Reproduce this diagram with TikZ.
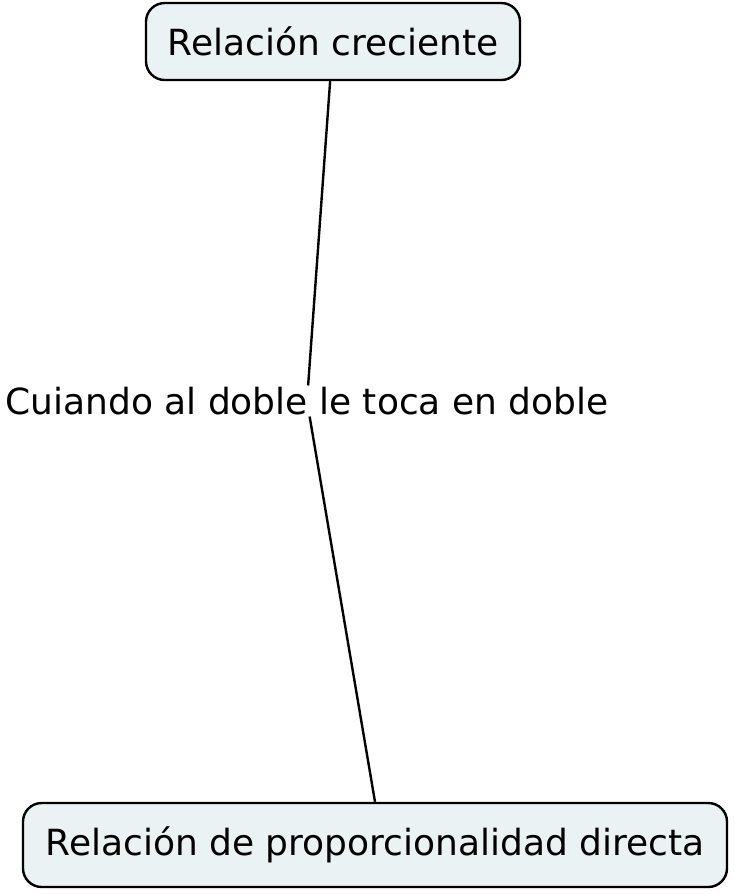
\documentclass[tikz,border=0pt]{standalone}
\usepackage{fontspec}
\setmainfont{DejaVu Sans}
\usetikzlibrary{positioning}
\definecolor{boxfill}{RGB}{235, 242, 244}

\begin{document}
\begin{tikzpicture}[x=0.75pt, y=-0.75pt,
  concept/.style={draw=black, line width=1.8pt, fill=boxfill, rounded corners=14pt,
    font=\fontsize{27}{32}\selectfont, inner sep=0pt},
  linklabel/.style={font=\fontsize{27}{32}\selectfont, inner sep=1pt},
  link/.style={line width=1.8pt, black}]
  % lienzo
  \useasboundingbox (0,0) rectangle (735,894);

  % conceptos
  \node[concept, minimum width=280.5pt, minimum height=57.75pt] (creciente) at (333, 41.5) {Relación creciente};
  \node[concept, minimum width=528pt, minimum height=63pt] (directa) at (375, 845) {Relación de proporcionalidad directa};

  % frase de enlace
  \node[linklabel] (doble) at (307, 401) {Cuiando al doble le toca en doble};

  % conexiones
  \draw[link] (creciente) -- (doble);
  \draw[link] (doble) -- (directa.north);
\end{tikzpicture}
\end{document}
